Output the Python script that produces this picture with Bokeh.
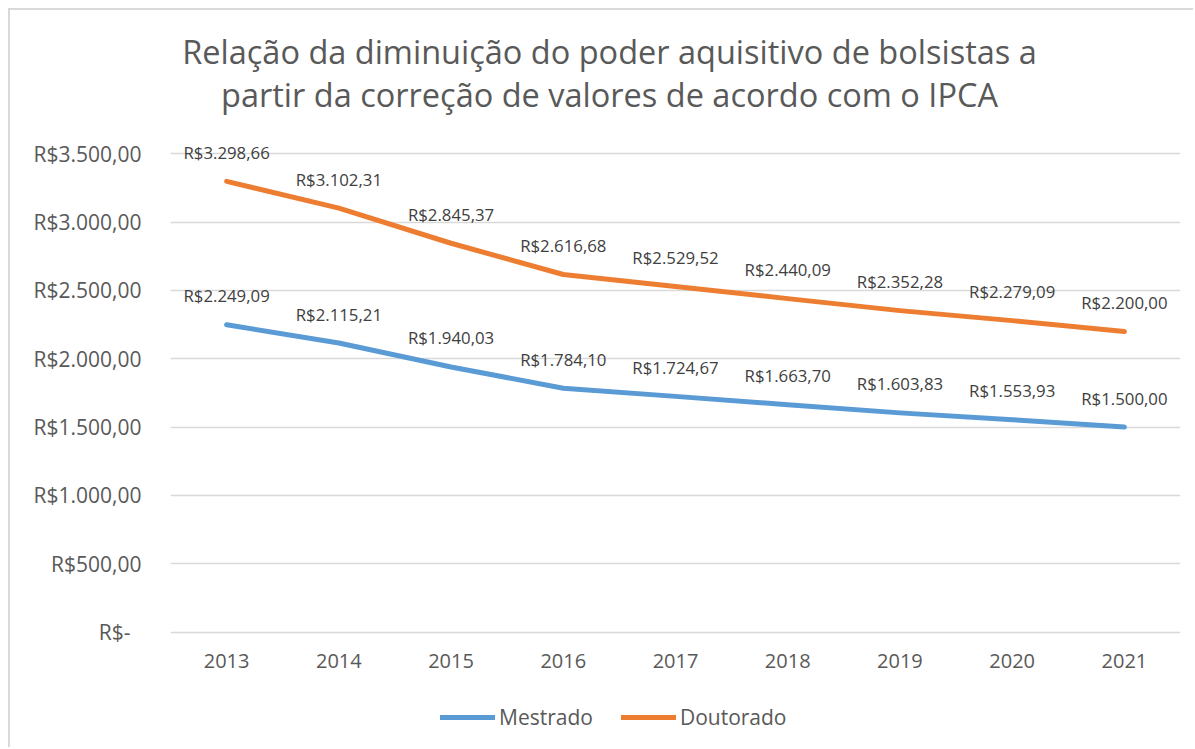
from bokeh.plotting import figure
from bokeh.models import ColumnDataSource, FixedTicker, Label, Legend, LegendItem, Range1d
from bokeh.core.properties import value
from bokeh.embed import file_html
from bokeh.resources import INLINE

years = [2013, 2014, 2015, 2016, 2017, 2018, 2019, 2020, 2021]
mestrado = [2249.09, 2115.21, 1940.03, 1784.10, 1724.67, 1663.70, 1603.83, 1553.93, 1500.00]
doutorado = [3298.66, 3102.31, 2845.37, 2616.68, 2529.52, 2440.09, 2352.28, 2279.09, 2200.00]
y_ticks = [0, 500, 1000, 1500, 2000, 2500, 3000, 3500]
y_tick_labels = ["R$-\u00a0\u00a0", "R$500,00", "R$1.000,00", "R$1.500,00", "R$2.000,00",
                 "R$2.500,00", "R$3.000,00", "R$3.500,00"]
title_lines = ["Relação da diminuição do poder aquisitivo de bolsistas a",
               "partir da correção de valores de acordo com o IPCA"]
series_names = ["Mestrado", "Doutorado"]


def brl(v):
    s = f"{v:,.2f}"
    s = s.replace(",", "X").replace(".", ",").replace("X", ".")
    return "R$" + s


FONT = "Open Sans"
GRAY = "#595959"
BLUE = "#5B9BD5"
ORANGE = "#ED7D31"

# frame covers the full height (title and legend live inside it); x axis is pinned at 0
p = figure(width=1185, height=739, output_backend="svg", toolbar_location=None,
           x_range=Range1d(2012.5, 2021.5), y_range=Range1d(-860, 4549),
           min_border_left=160, min_border_right=15, min_border_top=0, min_border_bottom=0)
p.title.visible = False
p.styles = {"margin": "8px 0 0 8px",
            "border-left": "2px solid #D9D9D9", "border-top": "2px solid #D9D9D9"}
p.outline_line_color = None
p.background_fill_color = "white"
p.border_fill_color = "white"

src = ColumnDataSource(dict(
    x=years, m=mestrado, d=doutorado,
    ml=[brl(v) for v in mestrado], dl=[brl(v) for v in doutorado],
))

r_m = p.line("x", "m", source=src, line_color=BLUE, line_width=5, line_cap="round", line_join="round")
r_d = p.line("x", "d", source=src, line_color=ORANGE, line_width=5, line_cap="round", line_join="round")

for col, lab in (("m", "ml"), ("d", "dl")):
    p.text("x", col, text=lab, source=src, text_font=value(FONT), text_font_size="16.8px",
           text_color="#404040", text_align="center", text_baseline="alphabetic", y_offset=-29)

# axes
p.xaxis.fixed_location = 0
p.xaxis.ticker = FixedTicker(ticks=years)
p.xaxis.major_label_overrides = {y: str(y) for y in years}
p.yaxis.ticker = FixedTicker(ticks=y_ticks)
p.yaxis.major_label_overrides = {t: l for t, l in zip(y_ticks, y_tick_labels)}
for ax in (p.xaxis, p.yaxis):
    ax.axis_line_color = None
    ax.major_tick_line_color = None
    ax.minor_tick_line_color = None
    ax.major_label_text_font = FONT
    ax.major_label_text_color = GRAY
p.xaxis.major_label_text_font_size = "20px"
p.yaxis.major_label_text_font_size = "21px"
p.yaxis.major_label_standoff = 23
p.xaxis.major_label_standoff = 16
p.xgrid.grid_line_color = None
p.ygrid.ticker = FixedTicker(ticks=y_ticks)
p.ygrid.grid_line_color = "#D9D9D9"
p.ygrid.grid_line_width = 1.5

# title, two centred lines
for i, t in enumerate(title_lines):
    p.add_layout(Label(x=439, y=698 - 43.3 * i, x_units="screen", y_units="screen", text=t,
                       text_font=FONT, text_font_size="32.5px", text_color=GRAY,
                       text_align="center", text_baseline="alphabetic"))

legend = Legend(items=[LegendItem(label=series_names[0], renderers=[r_m]),
                       LegendItem(label=series_names[1], renderers=[r_d])],
                orientation="horizontal", location=(270, 18),
                glyph_width=55, glyph_height=20, label_standoff=4, spacing=28,
                padding=0, margin=0, border_line_color=None, background_fill_alpha=0,
                label_text_font=FONT, label_text_font_size="21px", label_text_color=GRAY)
p.add_layout(legend, "center")

open("out.html", "w").write(file_html(p, INLINE))
